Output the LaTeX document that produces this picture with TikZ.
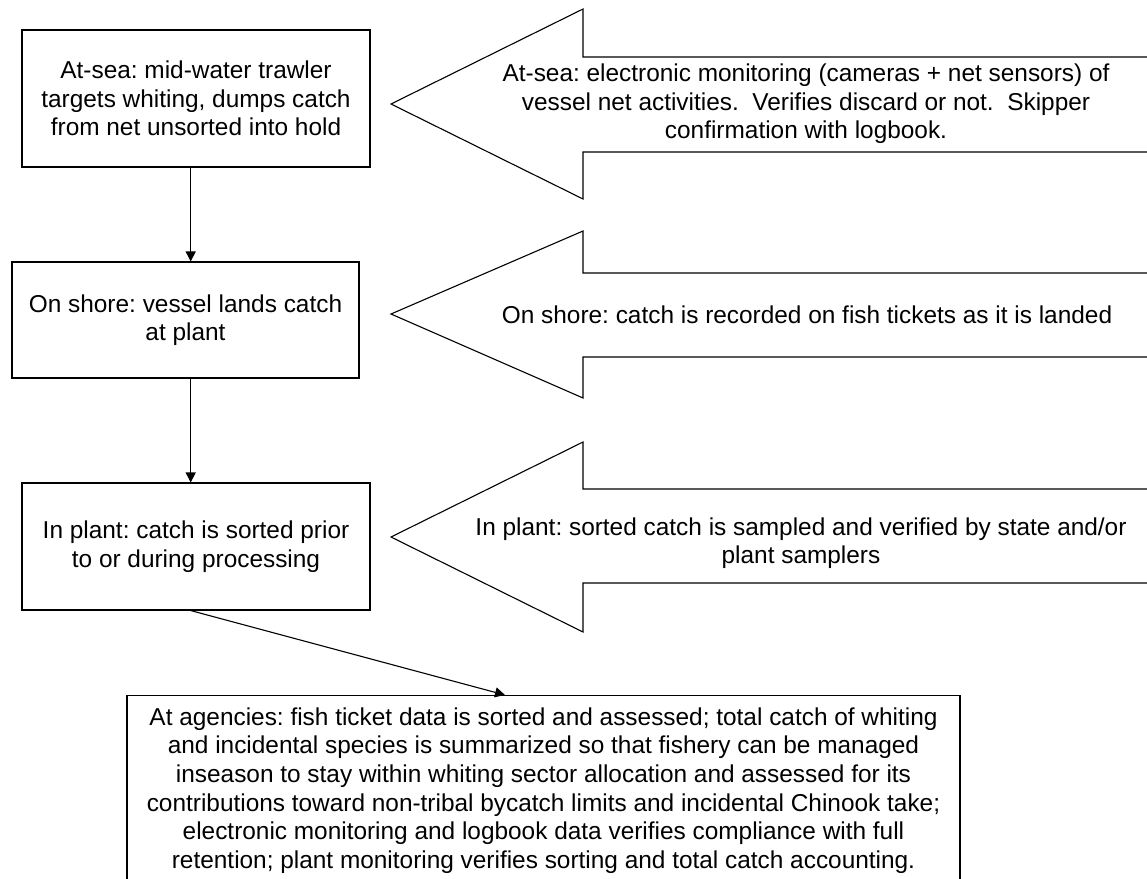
\documentclass[tikz,border=0pt]{standalone}
\usepackage{fontspec}
\setmainfont{Liberation Sans}
\usetikzlibrary{arrows.meta}
\frenchspacing
\tikzset{
  txt/.style={align=center, inner sep=0pt, font=\fontsize{24.4}{28.6}\selectfont},
  box/.style={txt, draw, line width=1.1pt},
  blk/.style={draw, line width=1.1pt, line join=miter},
  conn/.style={line width=1.1pt, -{Triangle[length=10pt,width=10pt]}}
}
\begin{document}
\begin{tikzpicture}[x=1pt,y=-1pt]
\useasboundingbox (0,0) rectangle (1147,878);
\clip (0,0) rectangle (1147,878);
% block arrows
\draw[blk] (391,104) -- (583,9) -- (583,57) -- (1230,57) -- (1230,152) -- (583,152) -- (583,199) -- cycle;
\draw[blk] (391,314) -- (583,231) -- (583,273) -- (1230,273) -- (1230,357) -- (583,357) -- (583,398) -- cycle;
\draw[blk] (391,537) -- (583,442) -- (583,489) -- (1230,489) -- (1230,583) -- (583,583) -- (583,632) -- cycle;
\node[txt] (t1) at (806,104) {At-sea: electronic monitoring (cameras + net sensors) of\\vessel net activities.\ \ Verifies discard or not.\ \ Skipper\\confirmation with logbook.};
\node[txt] (t2) at (807,315) {On shore: catch is recorded on fish tickets as it is landed};
\node[txt] (t3) at (801,543) {In plant: sorted catch is sampled and verified by state and/or\\plant samplers};
% boxes
\node[box, minimum width=348pt, minimum height=137pt] (b1) at (196,98.5) {At-sea: mid-water trawler\\targets whiting, dumps catch\\from net unsorted into hold};
\node[box, minimum width=347pt, minimum height=116pt] (b2) at (185.5,320) {On shore: vessel lands catch\\at plant};
\node[box, minimum width=348pt, minimum height=127pt] (b3) at (196,546.5) {In plant: catch is sorted prior\\to or during processing};
\node[box, anchor=north, minimum width=833pt, inner ysep=12pt, inner xsep=0pt] (b4) at (543.5,695) {At agencies: fish ticket data is sorted and assessed; total catch of whiting\\and incidental species is summarized so that fishery can be managed\\inseason to stay within whiting sector allocation and assessed for its\\contributions toward non-tribal bycatch limits and incidental Chinook take;\\electronic monitoring and logbook data verifies compliance with full\\retention; plant monitoring verifies sorting and total catch accounting.};
% connectors
\draw[conn] ([xshift=-5.3pt]b1.south) -- ([xshift=5.2pt]b2.north);
\draw[conn] ([xshift=5.2pt]b2.south) -- ([xshift=-5.3pt]b3.north);
\draw[conn] ([xshift=-5.3pt]b3.south) -- ([xshift=-38.5pt]b4.north);
\end{tikzpicture}
\end{document}
